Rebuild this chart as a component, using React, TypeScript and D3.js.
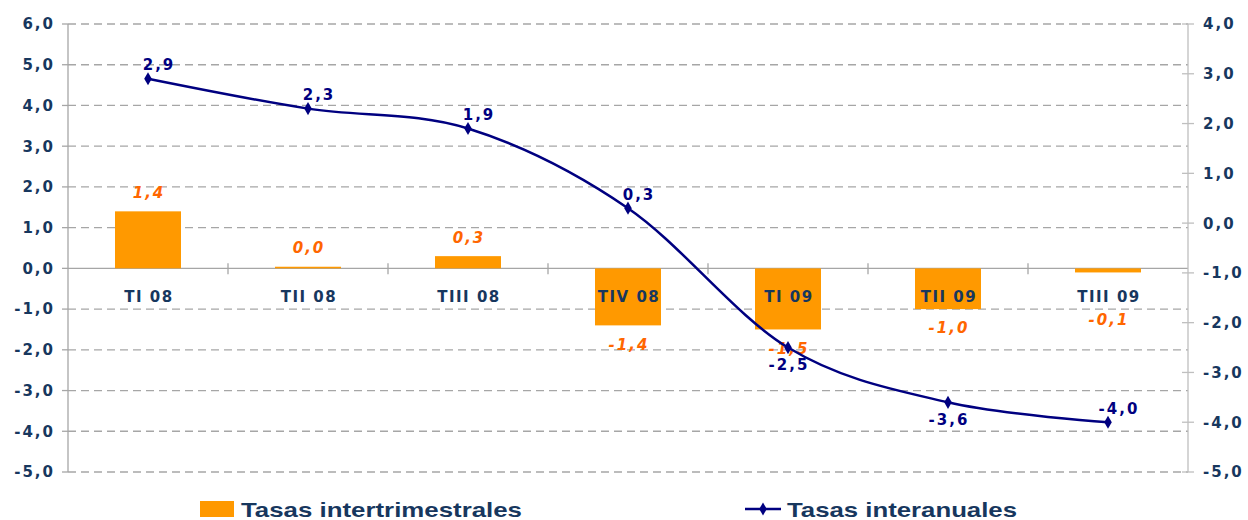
import React from 'react';
import * as d3 from 'd3';

const categories = ['TI 08', 'TII 08', 'TIII 08', 'TIV 08', 'TI 09', 'TII 09', 'TIII 09'];
const intertrimestrales = [1.4, 0.04, 0.3, -1.4, -1.5, -1.0, -0.1];
const interanuales = [2.9, 2.3, 1.9, 0.3, -2.5, -3.6, -4.0];
// where each line label sits relative to its point
const lineLabelSide = ['above', 'above', 'above', 'above', 'below', 'below', 'above'];
const leftTicks = [6, 5, 4, 3, 2, 1, 0, -1, -2, -3, -4, -5];
const rightTicks = [4, 3, 2, 1, 0, -1, -2, -3, -4, -5];
const legendNames = ['Tasas intertrimestrales', 'Tasas interanuales'];

const W = 1248;
const H = 520;
const left = 68;
const right = 1188;
const top = 24;
const bottom = 472;

const navy = '#17375E';
const lineColor = '#000080';
const barColor = '#FF9900';
const barLabelColor = '#FF6600';

const locale = d3.formatLocale({ decimal: ',', thousands: '.', grouping: [3], currency: ['', '€'], minus: '-' });
const fmt = locale.format('.1f');

const App = () => {
  const yL = d3.scaleLinear().domain([-5, 6]).range([bottom, top]);
  const yR = d3.scaleLinear().domain([-5, 4]).range([bottom, top]);
  const x = d3
    .scaleBand<string>()
    .domain(categories)
    .range([left, right])
    .paddingInner(0.5875)
    .paddingOuter(0.5875 / 2);
  const step = x.step();
  const cx = (c: string) => (x(c) as number) + x.bandwidth() / 2;

  const line = d3
    .line<number>()
    .x((_, i) => cx(categories[i]))
    .y((d) => yR(d))
    .curve(d3.curveCardinal.tension(0));

  const diamond = d3.symbol().type(d3.symbolDiamond).size(50)();
  const y0 = yL(0);

  const numFont = {
    fontFamily: 'DejaVu Sans, Verdana, sans-serif',
    fontWeight: 700,
    fontSize: 15,
    letterSpacing: '2px',
  } as const;

  return (
    <svg width={W} height={H} style={{ position: 'absolute', left: 0, top: 0, background: '#fff' }}>
      {/* grid lines */}
      {leftTicks.map((t) => (
        <line
          key={'g' + t}
          x1={left}
          x2={right}
          y1={yL(t)}
          y2={yL(t)}
          stroke="#A6A6A6"
          strokeWidth={1.3}
          strokeDasharray={t === 0 ? undefined : '8,5'}
        />
      ))}

      {/* left axis */}
      <line x1={left} x2={left} y1={top} y2={bottom} stroke="#A6A6A6" strokeWidth={1.3} />
      {leftTicks.map((t) => (
        <g key={'l' + t}>
          <line x1={left - 6} x2={left} y1={yL(t)} y2={yL(t)} stroke="#A6A6A6" strokeWidth={1.3} />
          <text x={55} y={yL(t)} dy="0.36em" textAnchor="end" fill={navy} style={numFont}>
            {fmt(t)}
          </text>
        </g>
      ))}

      {/* right axis */}
      <line x1={right} x2={right} y1={top} y2={bottom} stroke="#BFBFBF" strokeWidth={1.3} />
      {rightTicks.map((t) => (
        <g key={'r' + t}>
          <line x1={right - 6} x2={right + 6} y1={yR(t)} y2={yR(t)} stroke="#BFBFBF" strokeWidth={1.3} />
          <text x={1203} y={yR(t)} dy="0.36em" textAnchor="start" fill={navy} style={numFont}>
            {fmt(t)}
          </text>
        </g>
      ))}

      {/* category ticks on zero line */}
      {d3.range(1, categories.length).map((i) => (
        <line
          key={'ct' + i}
          x1={left + i * step}
          x2={left + i * step}
          y1={y0 - 5}
          y2={y0 + 6}
          stroke="#A6A6A6"
          strokeWidth={1.3}
        />
      ))}

      {/* bars */}
      {intertrimestrales.map((v, i) => (
        <rect
          key={'b' + i}
          x={x(categories[i])}
          width={x.bandwidth()}
          y={Math.min(yL(v), y0)}
          height={Math.abs(yL(v) - y0)}
          fill={barColor}
        />
      ))}

      {/* category labels */}
      {categories.map((c) => (
        <text
          key={'c' + c}
          x={cx(c) + 1}
          y={297}
          dy="0.36em"
          textAnchor="middle"
          fill={navy}
          style={{ ...numFont, letterSpacing: '1.5px' }}
        >
          {c}
        </text>
      ))}

      {/* bar labels */}
      {intertrimestrales.map((v, i) => {
        const ly = v >= 0 ? yL(v) - 19 : Math.max(yL(v) + 19, 320);
        return (
          <text
            key={'bl' + i}
            x={cx(categories[i]) + 1}
            y={ly}
            dy="0.36em"
            textAnchor="middle"
            fill={barLabelColor}
            style={{ ...numFont, fontStyle: 'italic' }}
          >
            {fmt(v)}
          </text>
        );
      })}

      {/* line */}
      <path d={line(interanuales) ?? ''} fill="none" stroke={lineColor} strokeWidth={2.5} />
      {interanuales.map((v, i) => (
        <path key={'m' + i} d={diamond ?? ''} transform={`translate(${cx(categories[i])},${yR(v)})`} fill={lineColor} />
      ))}
      {interanuales.map((v, i) => {
        const above = lineLabelSide[i] === 'above';
        return (
          <text
            key={'ll' + i}
            x={cx(categories[i]) + (above ? 11 : 1)}
            y={yR(v) + (above ? -14 : 17)}
            dy="0.36em"
            textAnchor="middle"
            fill={lineColor}
            style={numFont}
          >
            {fmt(v)}
          </text>
        );
      })}

      {/* legend */}
      <rect x={200} y={501} width={34} height={16} fill={barColor} />
      <text
        x={241}
        y={509}
        dy="0.36em"
        fill={navy}
        textLength={281}
        lengthAdjust="spacingAndGlyphs"
        style={{ fontFamily: 'Liberation Sans, Arial, sans-serif', fontSize: 21, fontWeight: 700 }}
      >
        {legendNames[0]}
      </text>
      <line x1={745} x2={781} y1={509} y2={509} stroke={lineColor} strokeWidth={2.5} />
      <path d={diamond ?? ''} transform="translate(763,509)" fill={lineColor} />
      <text
        x={787}
        y={509}
        dy="0.36em"
        fill={navy}
        textLength={230}
        lengthAdjust="spacingAndGlyphs"
        style={{ fontFamily: 'Liberation Sans, Arial, sans-serif', fontSize: 21, fontWeight: 700 }}
      >
        {legendNames[1]}
      </text>
    </svg>
  );
};

export default App;
